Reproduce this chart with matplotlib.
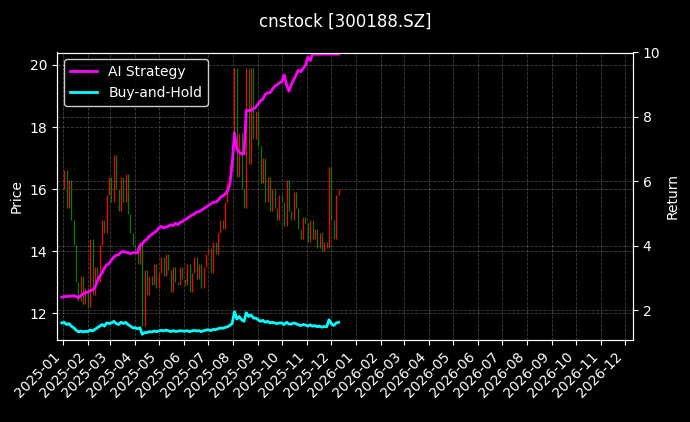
import matplotlib
matplotlib.use("Agg")
import matplotlib.pyplot as plt
import matplotlib.dates as mdates
from matplotlib.ticker import MultipleLocator
import pandas as pd
import numpy as np

close = [16.0,16.6,15.4,16.3,15.0,14.2,13.0,12.4,13.2,12.3,12.8,
         12.2,14.4,12.6,13.5,13.0,14.2,15.0,14.6,15.8,16.4,
         15.6,17.1,16.0,15.3,16.4,15.6,16.5,15.2,14.6,14.2,14.0,
         13.6,14.3,11.6,13.4,12.6,13.2,12.9,13.6,12.8,13.3,
         13.8,13.2,13.9,13.4,12.7,13.5,13.0,12.9,13.5,13.1,
         12.9,13.6,12.7,13.3,13.8,13.1,13.6,12.8,13.5,13.9,
         14.1,13.3,14.3,13.9,14.6,15.0,14.7,15.6,16.2,16.8,17.5,
         19.9,16.4,17.8,16.0,15.4,19.9,16.8,19.9,17.6,18.5,
         17.4,16.2,17.0,15.6,16.4,15.3,16.0,15.4,15.0,15.8,
         15.6,14.8,16.3,15.3,15.0,15.9,15.4,14.7,14.4,15.1,
         14.9,14.3,15.0,14.4,14.7,14.1,14.6,14.0,14.3,14.1,
         16.7,15.0,14.4,15.8,16.0]
ai = [2.4,2.42,2.42,2.43,2.43,2.45,2.42,2.38,2.45,2.5,2.55,
      2.55,2.6,2.62,2.7,2.9,3.05,3.15,3.3,3.4,3.45,
      3.55,3.65,3.7,3.72,3.8,3.82,3.8,3.78,3.75,3.78,3.78,
      3.78,4.0,4.05,4.15,4.2,4.3,4.35,4.4,4.45,4.55,
      4.6,4.55,4.58,4.6,4.65,4.62,4.7,4.65,4.72,4.75,
      4.8,4.85,4.9,4.95,4.98,5.05,5.05,5.1,5.15,5.2,
      5.25,5.3,5.35,5.35,5.4,5.5,5.55,5.6,5.7,5.9,6.5,
      7.5,7.0,6.9,6.85,6.85,8.2,8.2,8.2,8.25,8.3,
      8.4,8.5,8.55,8.7,8.75,8.75,8.85,8.95,9.0,9.05,
      9.1,9.3,9.0,8.8,9.0,9.15,9.3,9.45,9.4,9.5,
      9.6,9.85,9.75,9.95,9.95,9.95,9.95,9.95,9.95,9.95,
      9.95,9.95,9.95,9.95,9.95]
bh = [1.6,1.62,1.55,1.58,1.5,1.45,1.38,1.32,1.35,1.32,1.34,
      1.33,1.38,1.35,1.4,1.45,1.5,1.55,1.5,1.6,1.58,
      1.6,1.65,1.58,1.55,1.62,1.58,1.62,1.55,1.5,1.45,1.45,
      1.42,1.45,1.25,1.3,1.3,1.33,1.32,1.35,1.33,1.35,
      1.37,1.35,1.38,1.36,1.33,1.36,1.34,1.34,1.36,1.35,
      1.34,1.36,1.33,1.35,1.37,1.35,1.36,1.33,1.36,1.38,
      1.39,1.36,1.4,1.39,1.42,1.44,1.43,1.46,1.48,1.52,1.58,
      1.95,1.72,1.8,1.7,1.65,1.92,1.8,1.85,1.75,1.75,
      1.7,1.65,1.68,1.62,1.65,1.6,1.62,1.6,1.58,1.6,
      1.6,1.55,1.62,1.57,1.56,1.6,1.58,1.54,1.52,1.55,
      1.54,1.5,1.54,1.5,1.52,1.48,1.5,1.47,1.49,1.48,
      1.7,1.57,1.52,1.6,1.62]

dates = pd.date_range("2024-12-31", "2025-12-10", periods=len(close))
opens = [close[0]] + close[:-1]

plt.style.use("dark_background")
fig = plt.figure(figsize=(6.9, 4.22), dpi=100)
ax = fig.add_axes([57/690, 1-340/422, (633-57)/690, (340-52.5)/422])
ax2 = ax.twinx()

colors = ["red" if c >= o else "green" for o, c in zip(opens, close)]
ax.vlines(dates, np.minimum(opens, close), np.maximum(opens, close), colors=colors, linewidth=0.9)
ax.set_ylim(11.14, 20.4)
ax.set_ylabel("Price")

ax2.plot(dates, ai, color="magenta", lw=2, label="AI Strategy")
ax2.plot(dates, bh, color="cyan", lw=2, label="Buy-and-Hold")
ax2.set_ylim(1.07, 10.0)
ax2.yaxis.set_major_locator(MultipleLocator(2))
ax2.set_ylabel("Return")

ax.set_xlim(pd.Timestamp("2024-12-25"), pd.Timestamp("2026-12-11"))
ax.xaxis.set_major_locator(mdates.MonthLocator())
ax.xaxis.set_major_formatter(mdates.DateFormatter("%Y-%m"))
for lab in ax.get_xticklabels():
    lab.set_rotation(45)
    lab.set_ha("right")
ax.grid(True, linestyle="--", color="gray", alpha=0.5, linewidth=0.6)
ax2.grid(True, linestyle="--", color="gray", alpha=0.5, linewidth=0.6)
leg = ax2.legend(loc="upper left", facecolor="black", edgecolor="white")
fig.suptitle("cnstock [300188.SZ]", y=0.97)
fig.savefig("out.png", dpi=100, facecolor="black")
